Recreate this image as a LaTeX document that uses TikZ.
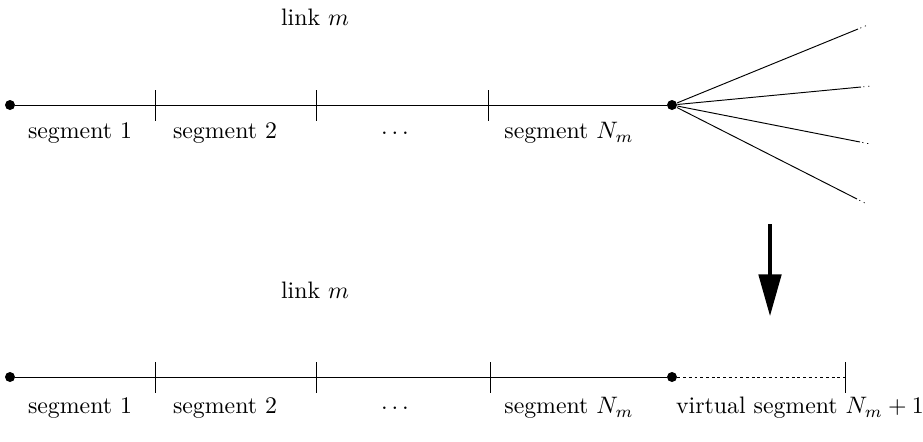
\documentclass[tikz,border=0pt]{standalone}
\usetikzlibrary{arrows.meta,calc}
\begin{document}
\begin{tikzpicture}[x=0.42pt,y=-0.42pt,
  every node/.style={inner sep=2pt},
  joint/.style={circle,fill,inner sep=0pt,minimum size=4.2pt},
  segtick/.style={line width=.35pt},
  seglabel/.style={anchor=center},
  turn/.style={-{Triangle[length=17.5pt,width=9.5pt]},line width=1.3pt}]
\useasboundingbox (0,0) rectangle (923,441);

% upper link, ending in a branching node
\node[joint] (a0) at (10,105) {};
\node[joint] (a1) at (672,105) {};
\draw (a0) -- (a1);
\foreach \x/\n in {155/1,316/2,488/3}
  \draw[segtick] (\x,90) coordinate (ta\n) -- (\x,121);
\node (linka) at (315,17) {link $m$};
\node[seglabel] (la1) at (80,133) {segment 1};
\node[seglabel] (la2) at (225,133) {segment 2};
\node[seglabel] (la3) at (395,133) {$\ldots$};
\node[seglabel] (la4) at (569,133) {segment $N_m$};

% outgoing links, only hinted at
\foreach \ex/\ey [count=\i] in {858/29,861/87,860/142,857/199}{
  \coordinate (b\i) at (\ex,\ey);
  \draw (a1) -- (b\i);
  \draw[line width=.3pt,dash pattern=on .5pt off 1.6pt]
    ($(a1)!1.012!(b\i)$) -- ($(a1)!1.05!(b\i)$);
}

\draw[turn] (770,224) coordinate (s) -- (770,316) coordinate (e);

% lower link with a virtual segment appended
\node[joint] (c0) at (10,377) {};
\node[joint] (c1) at (672,377) {};
\coordinate (c2) at (845,377);
\draw (c0) -- (c1);
\draw[dash pattern=on 1.2pt off 1.2pt] (c1) -- (c2);
\foreach \x/\n in {155/1,316/2,490/3,845/4}
  \draw[segtick] (\x,362) coordinate (tc\n) -- (\x,393);
\node (linkc) at (315,290) {link $m$};
\node[seglabel] (lc1) at (80,408) {segment 1};
\node[seglabel] (lc2) at (225,408) {segment 2};
\node[seglabel] (lc3) at (395,408) {$\ldots$};
\node[seglabel] (lc4) at (569,408) {segment $N_m$};
\node[seglabel] (lc5) at (800,408) {virtual segment $N_m+1$};
\end{tikzpicture}
\end{document}
